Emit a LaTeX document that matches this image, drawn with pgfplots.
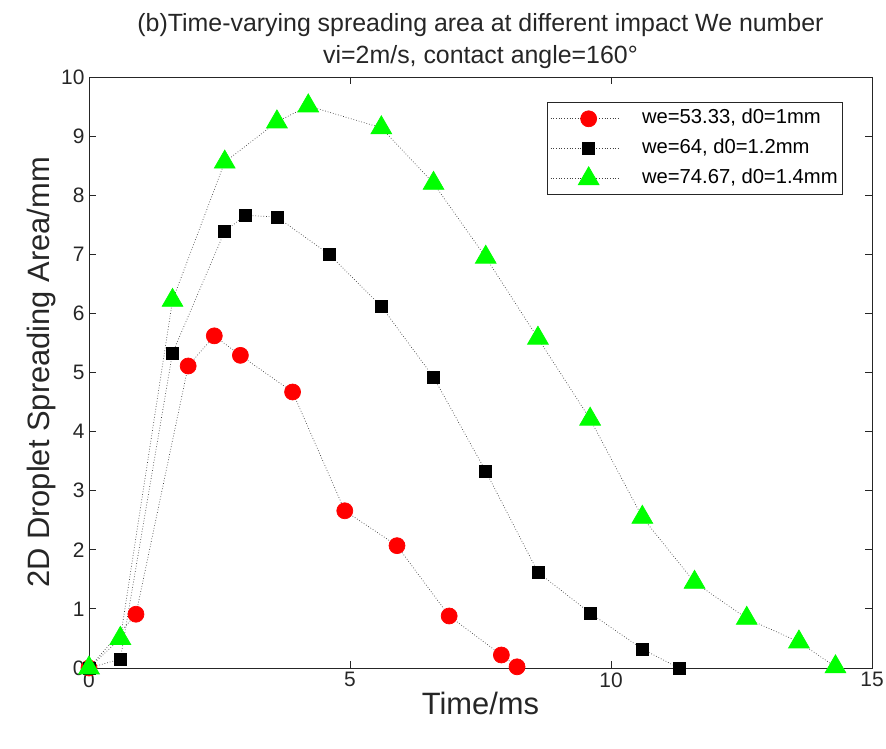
\documentclass[border=0pt]{standalone}
\usepackage{pgfplots}
\pgfplotsset{compat=1.18}
\usepackage{fontspec}
\setmainfont{Liberation Sans}

% legend sample: long dotted line with the marker in its middle
\pgfplotsset{longlegend/.style={
  legend image code/.code={
    \draw[##1, mark=none] (3bp,0bp) -- (73bp,0bp);
    \draw[##1, only marks] plot coordinates {(41bp,0bp)};}}}

\pgfplotstableread{
t    a
0    0
0.9  0.91
1.9  5.11
2.4  5.62
2.9  5.29
3.9  4.67
4.9  2.66
5.9  2.07
6.9  0.88
7.9  0.22
8.2  0.02
}\weA

\pgfplotstableread{
t    a
0    0
0.6  0.15
1.6  5.33
2.6  7.39
3.0  7.66
3.6  7.63
4.6  7.00
5.6  6.12
6.6  4.92
7.6  3.33
8.6  1.62
9.6  0.93
10.6 0.32
11.3 0.00
}\weB

\pgfplotstableread{
t    a
0    0
0.6  0.50
1.6  6.22
2.6  8.56
3.6  9.24
4.2  9.51
5.6  9.14
6.6  8.20
7.6  6.95
8.6  5.58
9.6  4.21
10.6 2.55
11.6 1.45
12.6 0.84
13.6 0.44
14.3 0.02
}\weC

\definecolor{axgray}{RGB}{38,38,38}
\definecolor{mgreen}{RGB}{0,255,0}

\begin{document}
\begin{tikzpicture}[x=1bp,y=1bp]
\useasboundingbox (0,0) rectangle (886,749);
\begin{axis}[
  at={(89bp,81bp)}, anchor=south west,
  scale only axis,
  width=783bp, height=591bp,
  xmin=0, xmax=15, ymin=0, ymax=10,
  xtick={0,5,10,15}, ytick={0,1,...,10},
  tick align=inside, tick pos=both,
  major tick length=7bp,
  axis line style={axgray, line width=0.8bp},
  every tick/.style={axgray, line width=0.8bp},
  /pgf/number format/assume math mode=true,
  ticklabel style={font=\fontsize{21}{21}\selectfont, text=axgray},
  xticklabel style={yshift=-1bp},
  yticklabel style={xshift=-1bp},
  xlabel={Time/ms},
  ylabel={2D Droplet Spreading Area/mm},
  label style={font=\fontsize{31}{31}\selectfont, text=axgray},
  xlabel style={yshift=2bp},
  ylabel style={yshift=-2bp},
  title={(b)Time-varying spreading area at different impact We number\\vi=2m/s, contact angle=160°},
  title style={font=\fontsize{25}{32}\selectfont, align=center, text=axgray, yshift=-1bp},
  legend style={at={(0.963,0.957)}, anchor=north east,
    draw=axgray, line width=0.8bp, font=\fontsize{20.3}{24}\selectfont,
    inner xsep=3bp, inner ysep=4bp, row sep=6bp,
    nodes={text height=15bp, text depth=5bp},
    /tikz/every odd column/.append style={column sep=19bp},
    /tikz/every even column/.append style={column sep=2bp}},
  legend cell align=left,
]
\addplot[black!75, dotted, line width=0.7bp, mark=*, mark size=8bp,
  mark options={solid, draw=red, fill=red}, longlegend] table {\weA};
\addlegendentry{we=53.33, d0=1mm}
\addplot[black!75, dotted, line width=0.7bp, mark=square*, mark size=6bp,
  mark options={solid, draw=black, fill=black}, longlegend] table {\weB};
\addlegendentry{we=64, d0=1.2mm}
\addplot[black!75, dotted, line width=0.7bp, mark=triangle*, mark size=12bp,
  mark options={solid, draw=mgreen, fill=mgreen}, longlegend] table {\weC};
\addlegendentry{we=74.67, d0=1.4mm}
\end{axis}
\end{tikzpicture}
\end{document}
